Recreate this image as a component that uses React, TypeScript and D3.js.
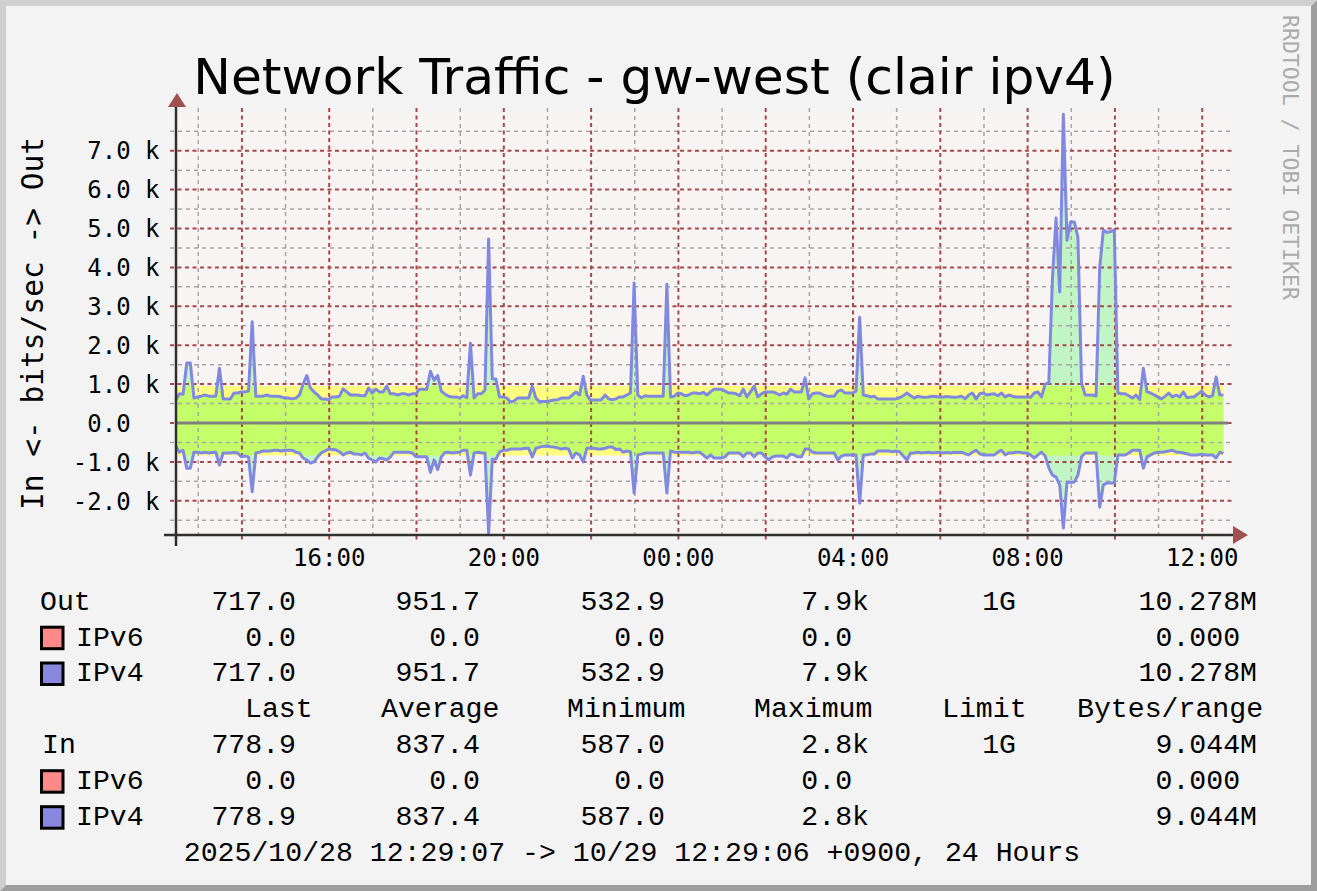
import React from 'react';
import * as d3 from 'd3';

const W = 1317;
const H = 891;

// time: minutes of day, start 2025/10/28 12:29:07, 5-minute samples over 24 hours
const startMinute = 12 * 60 + 29 + 7 / 60;
const stepMinutes = 5;

// Out (bits/sec), IPv4
const outValues = [
  590, 750, 740, 1540, 1540, 640, 670, 690, 720, 690, 690, 690,
  1410, 620, 620, 620, 770, 770, 800, 800, 820, 2600, 690, 690,
  690, 720, 690, 690, 690, 670, 640, 640, 620, 640, 720, 1000,
  1220, 900, 800, 720, 620, 620, 600, 670, 670, 690, 880, 800,
  720, 720, 720, 700, 700, 900, 770, 870, 800, 800, 950, 750,
  750, 720, 750, 750, 720, 750, 750, 870, 870, 870, 1330, 1100,
  1220, 820, 740, 690, 670, 670, 640, 700, 650, 2050, 640, 750,
  750, 850, 4730, 1130, 1130, 670, 670, 640, 540, 570, 640, 640,
  640, 640, 950, 640, 550, 550, 550, 570, 590, 600, 640, 640,
  640, 720, 800, 720, 1200, 720, 590, 590, 590, 600, 720, 620,
  600, 620, 670, 670, 720, 770, 3600, 720, 650, 700, 690, 690,
  690, 690, 690, 3570, 670, 690, 770, 750, 700, 720, 770, 770,
  750, 790, 720, 800, 870, 870, 870, 820, 770, 770, 750, 700,
  870, 670, 800, 950, 670, 750, 800, 800, 800, 770, 720, 770,
  740, 870, 800, 800, 800, 1160, 620, 750, 770, 770, 720, 690,
  690, 690, 820, 850, 770, 770, 770, 820, 2720, 720, 700, 670,
  690, 620, 620, 620, 620, 620, 620, 650, 700, 770, 700, 640,
  690, 670, 660, 670, 690, 680, 660, 670, 680, 670, 660, 670,
  690, 620, 720, 770, 620, 750, 770, 720, 740, 750, 700, 770,
  670, 720, 690, 670, 670, 670, 670, 660, 770, 800, 670, 1000,
  1030, 3700, 5270, 3370, 7940, 4700, 5170, 5170, 4780, 1030, 720, 720,
  720, 690, 4000, 4960, 4900, 4920, 4960, 770, 750, 750, 700, 640,
  720, 600, 1410, 800, 770, 720, 670, 620, 690, 770, 670, 720,
  670, 800, 650, 670, 670, 750, 820, 720, 670, 700, 1180, 720, 717,
];

// In (bits/sec, drawn below zero), IPv4
const inValues = [
  590, 750, 700, 1160, 1160, 750, 750, 770, 750, 770, 760, 750,
  1080, 770, 770, 770, 760, 770, 870, 850, 870, 1770, 770, 750,
  720, 720, 720, 700, 700, 720, 700, 700, 700, 750, 770, 900,
  950, 1030, 1000, 870, 770, 720, 670, 680, 690, 740, 820, 770,
  750, 800, 800, 820, 770, 900, 950, 1000, 900, 920, 950, 870,
  750, 750, 750, 750, 750, 770, 870, 870, 870, 870, 1270, 950,
  1200, 870, 760, 750, 770, 760, 750, 700, 700, 1340, 770, 750,
  770, 770, 2830, 930, 930, 750, 700, 700, 670, 670, 670, 670,
  650, 650, 870, 650, 620, 600, 590, 610, 620, 640, 670, 650,
  670, 900, 770, 820, 1000, 650, 650, 650, 670, 670, 650, 620,
  620, 680, 670, 750, 720, 740, 1800, 820, 800, 770, 770, 770,
  770, 770, 770, 1800, 720, 750, 750, 750, 750, 750, 770, 750,
  750, 820, 900, 820, 900, 900, 900, 870, 770, 770, 770, 770,
  870, 770, 770, 870, 770, 770, 870, 950, 870, 850, 850, 850,
  900, 800, 820, 870, 870, 670, 670, 750, 770, 770, 770, 770,
  770, 770, 950, 850, 820, 820, 820, 820, 2060, 820, 820, 800,
  800, 720, 720, 720, 720, 740, 720, 740, 850, 950, 770, 770,
  750, 770, 760, 750, 770, 760, 750, 770, 760, 770, 750, 760,
  750, 790, 820, 750, 700, 790, 820, 820, 820, 820, 750, 700,
  820, 770, 770, 750, 750, 770, 770, 820, 900, 820, 750, 850,
  1150, 1340, 1390, 1590, 2700, 1520, 1520, 1520, 1340, 870, 770, 770,
  770, 770, 2160, 1590, 1540, 1540, 1540, 820, 820, 820, 770, 700,
  700, 700, 1160, 870, 820, 770, 750, 750, 740, 720, 700, 750,
  750, 770, 790, 820, 820, 820, 800, 820, 820, 820, 900, 750, 779,
];

const outAverage = 951.7;
const inAverage = 837.4;

const yTickValues = [7000, 6000, 5000, 4000, 3000, 2000, 1000, 0, -1000, -2000];
const yTickLabels = ['7.0 k', '6.0 k', '5.0 k', '4.0 k', '3.0 k', '2.0 k', '1.0 k', '0.0  ', '-1.0 k', '-2.0 k'];
const xTickMinutes = [960, 1200, 1440, 1680, 1920, 2160];
const xTickLabels = ['16:00', '20:00', '00:00', '04:00', '08:00', '12:00'];

const titleText = 'Network Traffic - gw-west (clair ipv4)';
const yAxisLabel = 'In <- bits/sec -> Out';
const watermark = 'RRDTOOL / TOBI OETIKER';

const legendHeaders = ['Last', 'Average', 'Minimum', 'Maximum', 'Limit', 'Bytes/range'];
const outTotalRow = ['717.0', '951.7', '532.9', '7.9k', '1G', '10.278M'];
const outIPv6Row = ['0.0', '0.0', '0.0', '0.0 ', '', '0.000 '];
const outIPv4Row = ['717.0', '951.7', '532.9', '7.9k', '', '10.278M'];
const inTotalRow = ['778.9', '837.4', '587.0', '2.8k', '1G', '9.044M'];
const inIPv6Row = ['0.0', '0.0', '0.0', '0.0 ', '', '0.000 '];
const inIPv4Row = ['778.9', '837.4', '587.0', '2.8k', '', '9.044M'];
const footerText = '2025/10/28 12:29:07 -> 10/29 12:29:06 +0900, 24 Hours';

// styles / layout
const C = {
  bg: '#f3f3f3',
  shadeA: '#cfcfcf',
  shadeB: '#9e9e9e',
  canvas: '#f9f4f4',
  major: '#a84848',
  minor: '#a6a6a6',
  yellow: '#ffff80',
  paleGreen: '#c2f5c6',
  yellowGreen: '#c4ff6a',
  line: '#8088e0',
  zero: '#808080',
  axis: '#303030',
  arrow: '#a05050',
  ipv6: '#ff8888',
  ipv4: '#8888e0',
};

const PLOT = { left: 176, right: 1228, top: 113, bottom: 535 };

export default function App() {
  const x = d3.scaleLinear().domain([startMinute, startMinute + 1440]).range([175.8, 1223.4]);
  const y = d3.scaleLinear().domain([-2879, 7969]).range([535, 113]);

  const times = outValues.map((_, i) => startMinute + i * stepMinutes);

  const outArea = d3.area<number>().x((_, i) => x(times[i])).y0(y(0)).y1((d) => y(d));
  const inArea = d3.area<number>().x((_, i) => x(times[i])).y0(y(0)).y1((d) => y(-d));
  const outLine = d3.line<number>().x((_, i) => x(times[i])).y((d) => y(d));
  const inLine = d3.line<number>().x((_, i) => x(times[i])).y((d) => y(-d));

  const avgBand = d3.area<number>().x((d) => x(d));

  const hourMinutes = d3.range(13, 37).map((h) => h * 60);
  const hGrid = d3.range(-2500, 8000, 500);

  const monoSans = '"DejaVu Sans Mono", monospace';
  const monoSerif = '"Liberation Mono", "Courier New", monospace';

  const rowY = [609.5, 645.5, 681.3, 717, 753, 789, 825, 861];
  const colRight = [296, 480, 665, 869, 1016, 1257];
  const headerStart = [245, 381, 567, 754, 942, 1077];

  const renderRow = (vals: string[], yy: number, key: string) =>
    vals.map((v, j) =>
      v ? (
        <text key={key + j} x={colRight[j]} y={yy} textAnchor="end" style={{ whiteSpace: 'pre' }}>
          {v}
        </text>
      ) : null
    );

  const swatch = (color: string, yy: number) => (
    <rect x={41.5} y={yy - 18.3} width={21.5} height={21.5} fill={color} stroke="#000" strokeWidth={3} />
  );

  const ends = [startMinute, startMinute + 1440];

  return (
    <svg
      width={W}
      height={H}
      style={{ position: 'fixed', left: 0, top: 0, display: 'block' }}
      xmlns="http://www.w3.org/2000/svg"
    >
      <rect x={0} y={0} width={W} height={H} fill={C.bg} />
      <polygon points={`0,0 ${W},0 ${W - 6},6 6,6 6,${H - 6} 0,${H}`} fill={C.shadeA} />
      <polygon points={`${W},0 ${W},${H} 0,${H} 6,${H - 6} ${W - 6},${H - 6} ${W - 6},6`} fill={C.shadeB} />

      {/* title */}
      <text x={654.5} y={94} textAnchor="middle" fontFamily='"DejaVu Sans", sans-serif' fontSize={50.3} fill="#000">
        {titleText}
      </text>

      {/* watermark */}
      <text
        transform="translate(1283,15) rotate(90)"
        fontFamily={monoSans}
        fontSize={22}
        fill="#ababab"
        textLength={285}
        lengthAdjust="spacingAndGlyphs"
      >
        {watermark}
      </text>

      {/* canvas */}
      <rect x={PLOT.left} y={PLOT.top} width={PLOT.right - PLOT.left} height={PLOT.bottom - PLOT.top} fill={C.canvas} />

      {/* average bands */}
      <path d={avgBand.y0(y(0)).y1(y(outAverage))(ends) || ''} fill={C.yellow} />
      <path d={avgBand.y0(y(0)).y1(y(-inAverage))(ends) || ''} fill={C.yellow} />

      {/* data areas */}
      <path d={outArea(outValues) || ''} fill={C.paleGreen} />
      <path d={inArea(inValues) || ''} fill={C.paleGreen} />
      <path d={outArea(outValues.map((v) => Math.min(v, outAverage))) || ''} fill={C.yellowGreen} />
      <path d={inArea(inValues.map((v) => Math.min(v, inAverage))) || ''} fill={C.yellowGreen} />

      {/* grid: minor */}
      {hGrid
        .filter((v) => v % 1000 !== 0)
        .map((v) => (
          <line key={'hm' + v} x1={170} x2={1232} y1={y(v)} y2={y(v)} stroke={C.minor} strokeWidth={1.5} strokeDasharray="4 4" />
        ))}
      {hourMinutes
        .filter((m) => (m / 60) % 2 !== 0)
        .map((m) => (
          <line key={'vm' + m} x1={x(m)} x2={x(m)} y1={108} y2={540} stroke={C.minor} strokeWidth={1.5} strokeDasharray="4 4" />
        ))}
      {/* grid: major */}
      {yTickValues.map((v) => (
        <line key={'hM' + v} x1={170} x2={1232} y1={y(v)} y2={y(v)} stroke={C.major} strokeWidth={2} strokeDasharray="4 3.5" />
      ))}
      {hourMinutes
        .filter((m) => (m / 60) % 2 === 0)
        .map((m) => (
          <line key={'vM' + m} x1={x(m)} x2={x(m)} y1={108} y2={543} stroke={C.major} strokeWidth={2} strokeDasharray="4 3.5" />
        ))}

      {/* zero line */}
      <line x1={176} x2={1228} y1={y(0)} y2={y(0)} stroke={C.zero} strokeWidth={3} />

      {/* data lines */}
      <path d={outLine(outValues) || ''} fill="none" stroke={C.line} strokeWidth={3} strokeLinejoin="round" />
      <path d={inLine(inValues) || ''} fill="none" stroke={C.line} strokeWidth={3} strokeLinejoin="round" />

      {/* axes */}
      <line x1={176} x2={176} y1={104} y2={546} stroke={C.axis} strokeWidth={2.5} />
      <line x1={164} x2={1234} y1={535} y2={535} stroke={C.axis} strokeWidth={2.5} />
      <polygon points="168,107 186,107 177,93" fill={C.arrow} />
      <polygon points="1233,526 1233,544 1248,535" fill={C.arrow} />

      {/* y tick labels */}
      <g fontFamily={monoSans} fontSize={24} fill="#000">
        {yTickValues.map((v, i) => (
          <text key={'yl' + v} x={159.5} y={y(v) + 8.8} textAnchor="end" style={{ whiteSpace: 'pre' }}>
            {yTickLabels[i]}
          </text>
        ))}
        {xTickMinutes.map((m, i) => (
          <text key={'xl' + m} x={x(m)} y={566} textAnchor="middle">
            {xTickLabels[i]}
          </text>
        ))}
      </g>

      {/* y axis label */}
      <text
        transform="translate(43,323.5) rotate(-90)"
        textAnchor="middle"
        fontFamily={monoSans}
        fontSize={29.5}
        fill="#000"
        style={{ whiteSpace: 'pre' }}
      >
        {yAxisLabel}
      </text>

      {/* legend */}
      <g fontFamily={monoSerif} fontSize={28.2} fill="#000">
        <text x={40} y={rowY[0]}>Out</text>
        {renderRow(outTotalRow, rowY[0], 'ot')}
        {swatch(C.ipv6, rowY[1])}
        <text x={76} y={rowY[1]}>IPv6</text>
        {renderRow(outIPv6Row, rowY[1], 'o6')}
        {swatch(C.ipv4, rowY[2])}
        <text x={76} y={rowY[2]}>IPv4</text>
        {renderRow(outIPv4Row, rowY[2], 'o4')}
        {legendHeaders.map((h, j) => (
          <text key={'h' + j} x={headerStart[j]} y={rowY[3]}>
            {h}
          </text>
        ))}
        <text x={42} y={rowY[4]}>In</text>
        {renderRow(inTotalRow, rowY[4], 'it')}
        {swatch(C.ipv6, rowY[5])}
        <text x={76} y={rowY[5]}>IPv6</text>
        {renderRow(inIPv6Row, rowY[5], 'i6')}
        {swatch(C.ipv4, rowY[6])}
        <text x={76} y={rowY[6]}>IPv4</text>
        {renderRow(inIPv4Row, rowY[6], 'i4')}
        <text x={632} y={rowY[7]} textAnchor="middle">
          {footerText}
        </text>
      </g>
    </svg>
  );
}
